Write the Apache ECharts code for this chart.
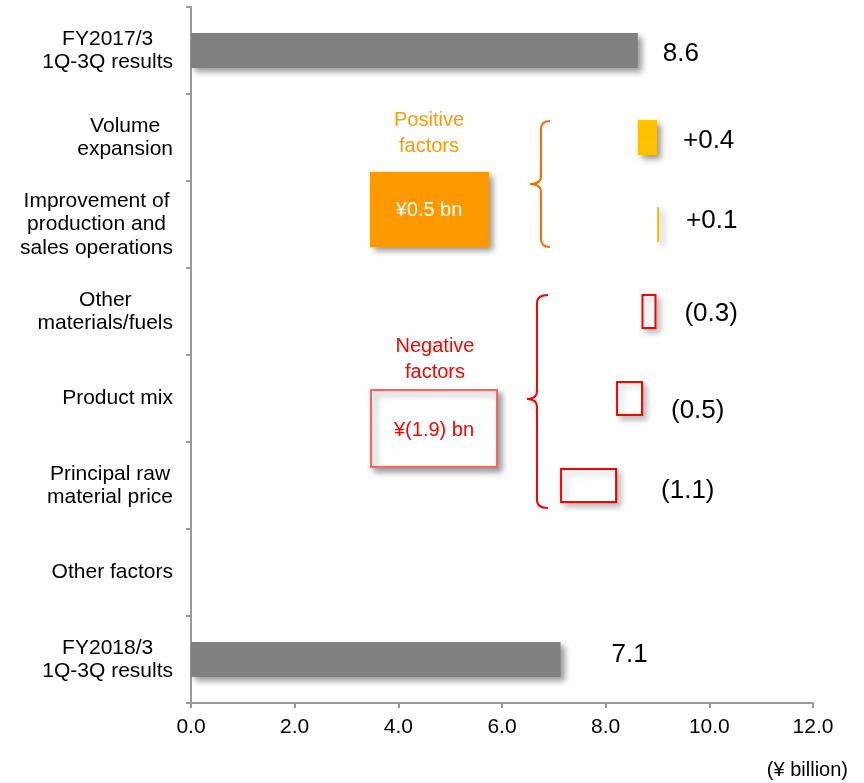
<!DOCTYPE html>
<html>
<head>
<meta charset="utf-8">
<script src="https://cdn.jsdelivr.net/npm/echarts@6/dist/echarts.min.js"></script>
<style>
  html, body { margin: 0; padding: 0; background: #fff; }
  #main { width: 864px; height: 783px; }
</style>
</head>
<body>
<div id="main"></div>
<script>
// 分类
const categories = [
  'FY2017/3\n1Q-3Q results',
  'Volume\nexpansion',
  'Improvement of\nproduction and\nsales operations',
  'Other\nmaterials/fuels',
  'Product mix',
  'Principal raw\nmaterial price',
  'Other factors',
  'FY2018/3\n1Q-3Q results'
]
// 期初/期末合计
const totalValues = [8.62, '-', '-', '-', '-', '-', '-', 7.13]
// 各因素起点与终点
const stepFrom = ['-', 8.62, 8.99, 8.98, 8.72, 8.22, '-', '-']
const stepTo = ['-', 8.99, 9.03, 8.69, 8.20, 7.12, '-', '-']
// 数值标签
const valueLabels = ['8.6', '+0.4', '+0.1', '(0.3)', '(0.5)', '(1.1)', '', '7.1']
// x轴刻度
const xTicks = [0, 2, 4, 6, 8, 10, 12]

// 标签偏移（样式）
const labelOffsets = [[20, 3], [21, 3], [22, -4], [23, 2], [23, 12], [39, 5], [0, 0], [46, -5]]

const FONT = '"Liberation Sans", Arial, sans-serif'

const baseValues = stepFrom.map((f, i) => f === '-' ? 0 : Math.min(f, stepTo[i]))
const upValues = stepFrom.map((f, i) => (f !== '-' && stepTo[i] > f) ? +(stepTo[i] - f).toFixed(3) : '-')
const downValues = stepFrom.map((f, i) => (f !== '-' && stepTo[i] < f) ? +(f - stepTo[i]).toFixed(3) : '-')

const shadow = {
  shadowColor: 'rgba(0,0,0,0.4)',
  shadowBlur: 6,
  shadowOffsetX: 4,
  shadowOffsetY: 4
}

function withLabels(values) {
  return values.map((v, i) => {
    if (v === '-') return '-'
    return {
      value: v,
      label: {
        show: true,
        position: 'right',
        distance: 5,
        offset: labelOffsets[i],
        formatter: valueLabels[i],
        fontSize: 26,
        fontFamily: FONT,
        color: '#000'
      }
    }
  })
}

// 花括号：由曲线和直线组成
function brace(xr, xv, xp, top, mid, bot, color) {
  const r = 8
  const style = { fill: 'none', stroke: color, lineWidth: 2 }
  return {
    type: 'group',
    children: [
      { type: 'bezierCurve', shape: { x1: xr, y1: top, cpx1: xv, cpy1: top, x2: xv, y2: top + r }, style: style },
      { type: 'line', shape: { x1: xv, y1: top + r, x2: xv, y2: mid - r }, style: style },
      { type: 'bezierCurve', shape: { x1: xv, y1: mid - r, cpx1: xv, cpy1: mid, x2: xp, y2: mid }, style: style },
      { type: 'bezierCurve', shape: { x1: xp, y1: mid, cpx1: xv, cpy1: mid, x2: xv, y2: mid + r }, style: style },
      { type: 'line', shape: { x1: xv, y1: mid + r, x2: xv, y2: bot - r }, style: style },
      { type: 'bezierCurve', shape: { x1: xv, y1: bot - r, cpx1: xv, cpy1: bot, x2: xr, y2: bot }, style: style }
    ]
  }
}

const myChart = echarts.init(document.getElementById('main'))

const option = {
  animation: false,
  grid: {
    left: 191,
    right: 51,
    top: 7,
    bottom: 80,
    containLabel: false
  },
  xAxis: {
    type: 'value',
    min: xTicks[0],
    max: xTicks[xTicks.length - 1],
    interval: 2,
    axisLine: { show: true, lineStyle: { color: '#999', width: 2 } },
    axisTick: { show: true, length: 5, lineStyle: { color: '#999', width: 2 } },
    splitLine: { show: false },
    axisLabel: {
      margin: 14,
      fontSize: 21,
      fontFamily: FONT,
      color: '#000',
      formatter: v => v.toFixed(1)
    }
  },
  yAxis: {
    type: 'category',
    inverse: true,
    data: categories,
    axisLine: { show: true, lineStyle: { color: '#999', width: 2 } },
    axisTick: { show: true, length: 5, lineStyle: { color: '#999', width: 2 } },
    axisLabel: {
      margin: 18,
      formatter: v => v.split('\n').map(l => '{c|' + l + '}').join('\n'),
      rich: {
        c: {
          align: 'center',
          fontSize: 21,
          lineHeight: 23.5,
          fontFamily: FONT,
          color: '#000'
        }
      }
    }
  },
  series: [
    {
      name: 'base',
      type: 'bar',
      stack: 'w',
      barWidth: 35,
      silent: true,
      itemStyle: { color: 'transparent' },
      data: baseValues
    },
    {
      name: 'total',
      type: 'bar',
      stack: 'w',
      barWidth: 35,
      itemStyle: Object.assign({ color: '#808080' }, shadow),
      data: withLabels(totalValues)
    },
    {
      name: 'up',
      type: 'bar',
      stack: 'w',
      barWidth: 35,
      itemStyle: Object.assign({ color: '#FFC000' }, shadow),
      data: withLabels(upValues)
    },
    {
      name: 'down',
      type: 'bar',
      stack: 'w',
      barWidth: 35,
      itemStyle: {
        color: '#fff',
        borderColor: '#FF0000',
        borderWidth: 2,
        shadowColor: 'rgba(0,0,0,0.25)',
        shadowBlur: 6,
        shadowOffsetX: 4,
        shadowOffsetY: 4
      },
      data: withLabels(downValues)
    }
  ],
  graphic: [
    {
      type: 'text',
      x: 429, y: 133,
      style: {
        text: 'Positive\nfactors',
        fill: '#FF9900',
        font: '20px ' + FONT,
        lineHeight: 26,
        align: 'center',
        verticalAlign: 'middle'
      }
    },
    {
      type: 'rect',
      shape: { x: 370, y: 172, width: 119, height: 75 },
      style: Object.assign({ fill: '#FF9900' }, shadow)
    },
    {
      type: 'text',
      x: 429, y: 210,
      style: {
        text: '¥0.5 bn',
        fill: '#fff',
        font: '20px ' + FONT,
        align: 'center',
        verticalAlign: 'middle'
      }
    },
    {
      type: 'text',
      x: 435, y: 359,
      style: {
        text: 'Negative\nfactors',
        fill: '#FF0000',
        font: '20px ' + FONT,
        lineHeight: 26,
        align: 'center',
        verticalAlign: 'middle'
      }
    },
    {
      type: 'rect',
      shape: { x: 371, y: 390, width: 126, height: 77 },
      style: Object.assign({ fill: '#fff', stroke: '#FF6060', lineWidth: 2 }, shadow)
    },
    {
      type: 'text',
      x: 434, y: 430,
      style: {
        text: '¥(1.9) bn',
        fill: '#FF0000',
        font: '20px ' + FONT,
        align: 'center',
        verticalAlign: 'middle'
      }
    },
    brace(550, 541, 530, 121, 184, 247, '#FF6A00'),
    brace(548, 537, 527, 295, 399, 508, '#FF0000'),
    {
      type: 'text',
      x: 848, y: 770,
      style: {
        text: '(¥ billion)',
        fill: '#000',
        font: '20px ' + FONT,
        align: 'right',
        verticalAlign: 'middle'
      }
    }
  ]
}

myChart.setOption(option)

window.onresize = function () {
  myChart.resize()
}
</script>
</body>
</html>
